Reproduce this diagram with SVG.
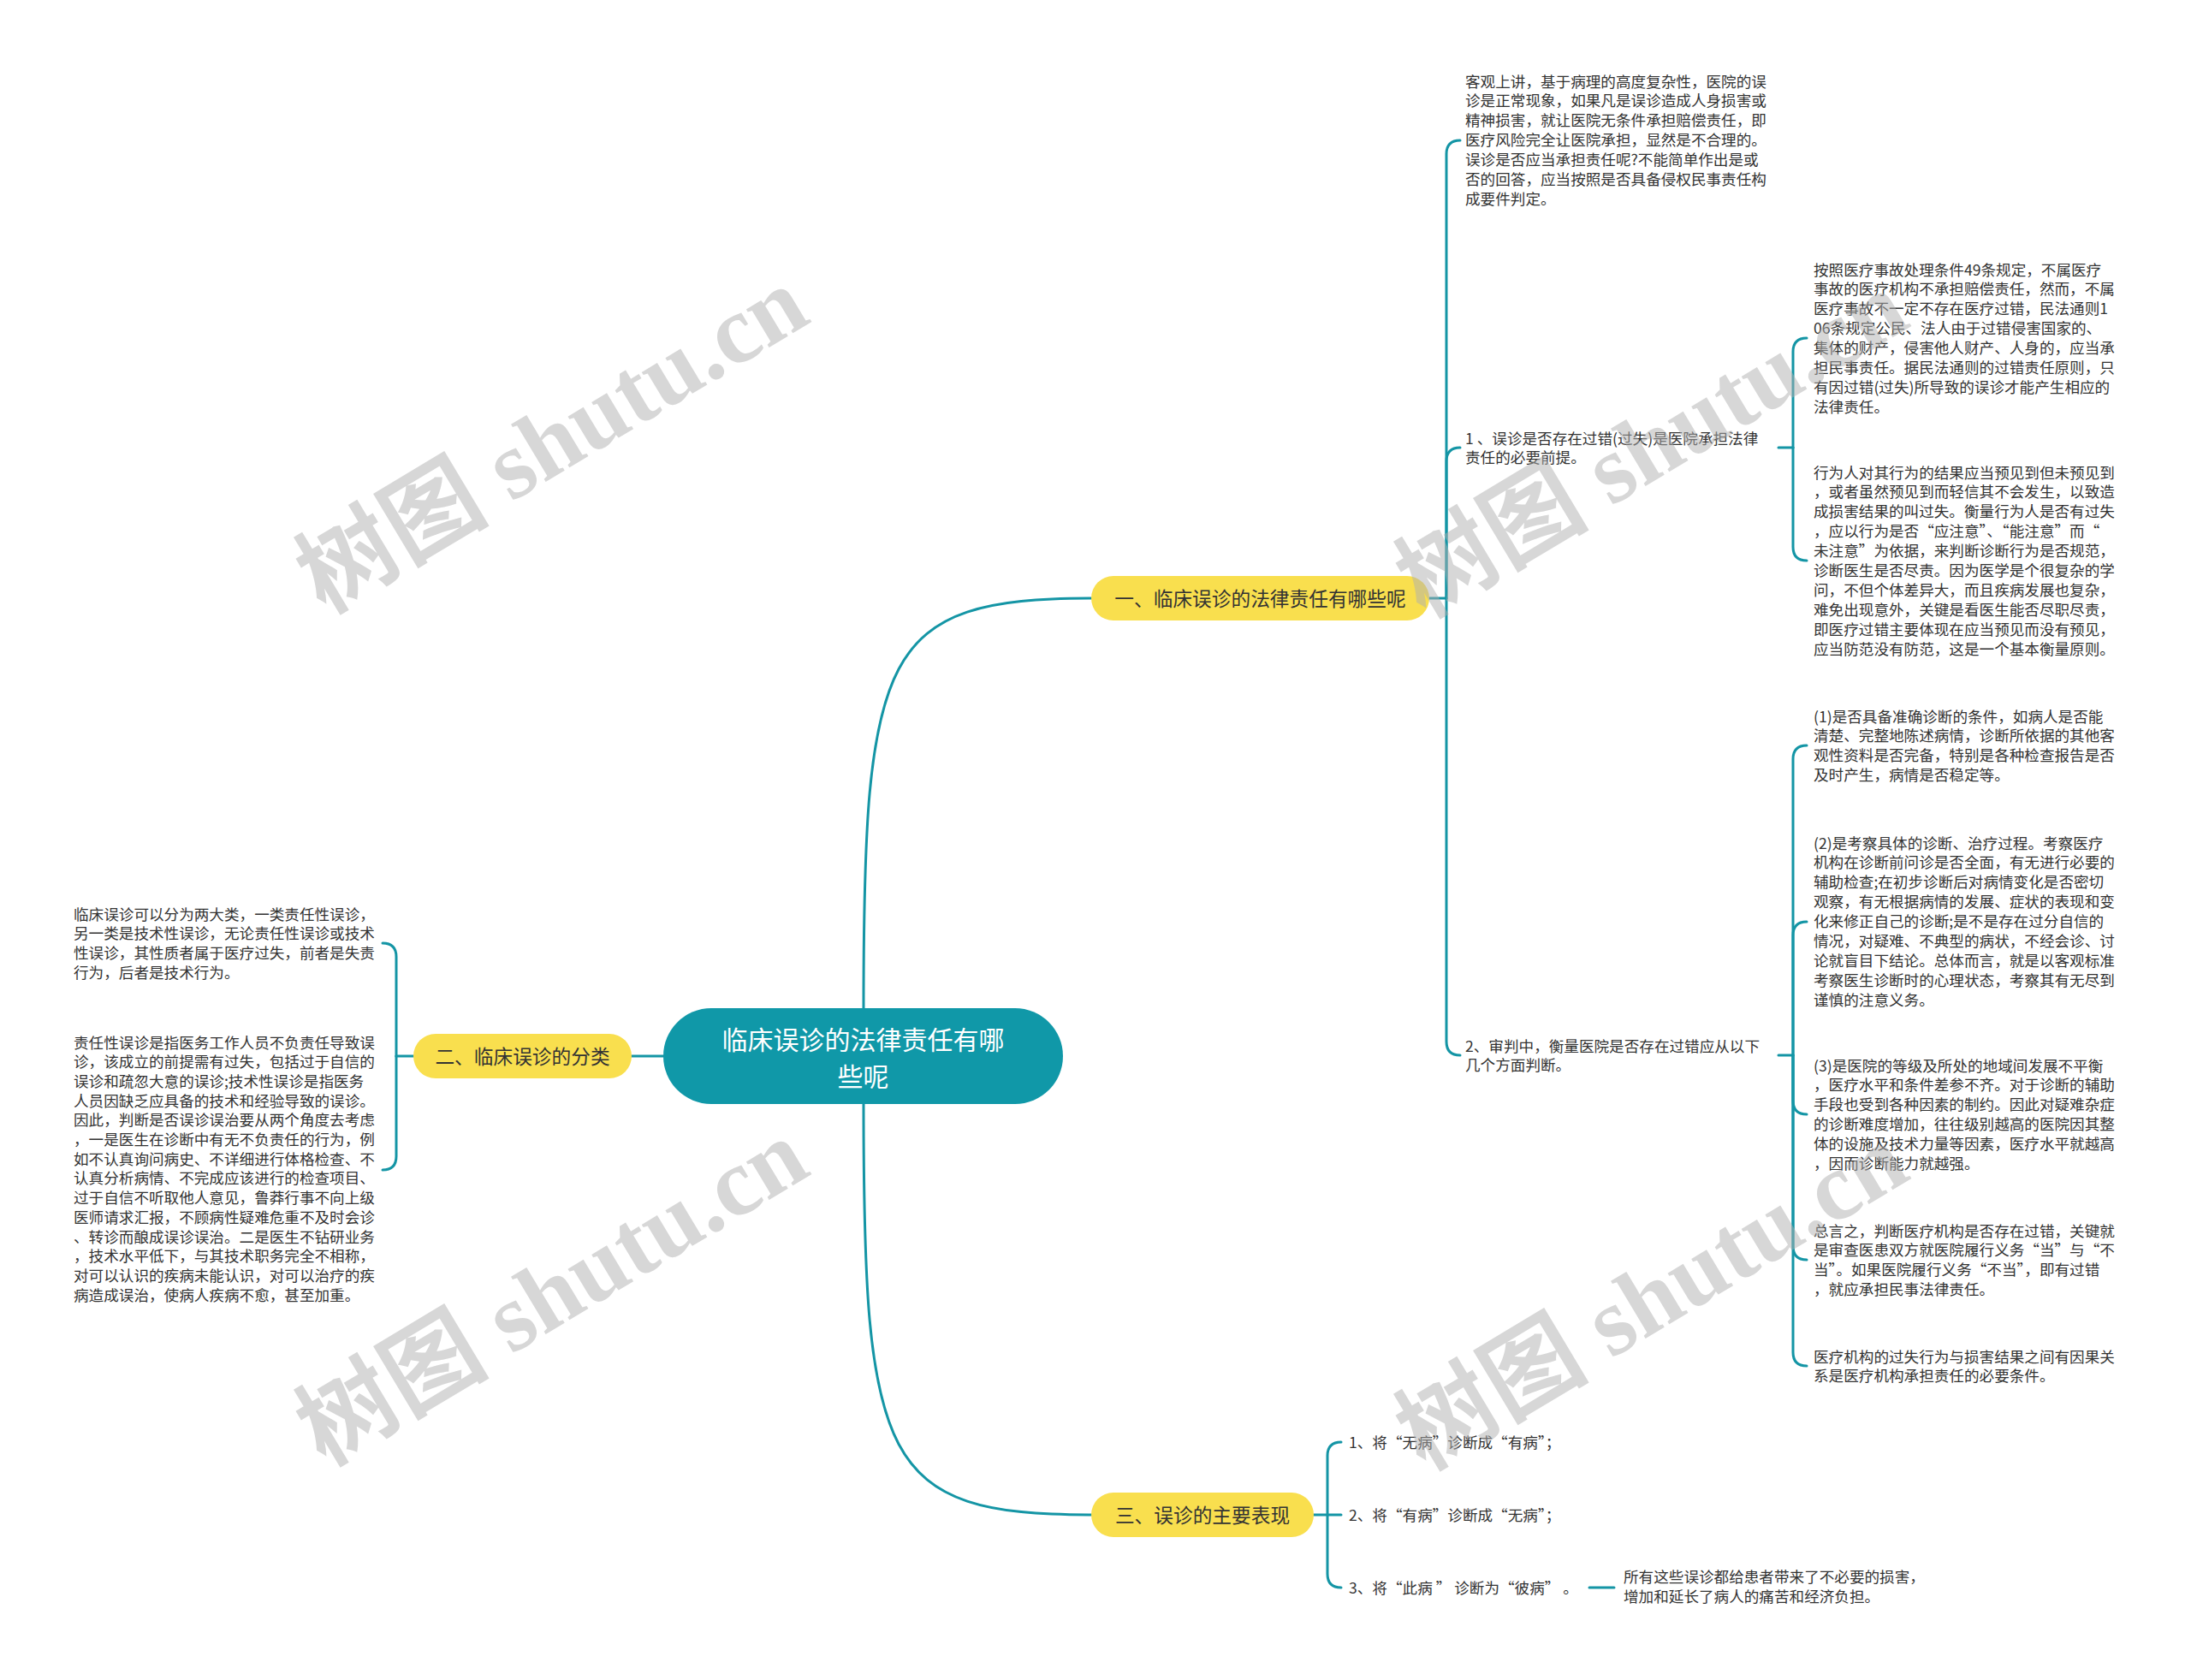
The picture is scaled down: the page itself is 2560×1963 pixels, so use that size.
<svg xmlns="http://www.w3.org/2000/svg" width="2560" height="1963" viewBox="0 0 2560 1963">
<style>
.t{font-family:"Noto Sans CJK SC","Noto Sans",sans-serif;font-size:17.6px;fill:#333}
.br{font-family:"Noto Sans CJK SC","Noto Sans",sans-serif;font-size:22.7px;fill:#333;text-anchor:middle}
.ct{font-family:"Noto Sans CJK SC","Noto Sans",sans-serif;font-size:30px;fill:#fff;text-anchor:middle}
.pill{fill:#F9DF4E}
.c{fill:none;stroke:#1495A5;stroke-width:3;stroke-linecap:round}
.wm{font-family:"Liberation Serif","Noto Sans CJK SC",serif;font-size:113px;font-weight:bold;fill:#b0b0b0;fill-opacity:0.5;text-anchor:middle}
</style>
<rect width="2560" height="1963" fill="#fff"/>
<g id="connectors">
<path class="c" d="M1009,1178 C1009,760 1030,699 1275,699"/>
<path class="c" d="M1009,1290 C1009,1710 1030,1770 1275,1770"/>
<path class="c" d="M775,1234 H738"/>
<path class="c" d="M1670,699 H1690"/>
<path class="c" d="M1690,699 V180 Q1690,164 1706,164"/>
<path class="c" d="M1690,699 V539 Q1690,523 1706,523"/>
<path class="c" d="M1690,699 V1217 Q1690,1233 1706,1233"/>
<path class="c" d="M2078,523 H2095"/>
<path class="c" d="M2095,523 V411 Q2095,395 2111,395"/>
<path class="c" d="M2095,523 V639 Q2095,655 2111,655"/>
<path class="c" d="M2078,1233 H2095"/>
<path class="c" d="M2095,1233 V887 Q2095,871 2111,871"/>
<path class="c" d="M2095,1233 V1093 Q2095,1077 2111,1077"/>
<path class="c" d="M2095,1233 V1286 Q2095,1302 2111,1302"/>
<path class="c" d="M2095,1233 V1456 Q2095,1472 2111,1472"/>
<path class="c" d="M2095,1233 V1580 Q2095,1596 2111,1596"/>
<path class="c" d="M483,1234 H463"/>
<path class="c" d="M463,1234 V1118 Q463,1102 447,1102"/>
<path class="c" d="M463,1234 V1351 Q463,1367 447,1367"/>
<path class="c" d="M1535,1770 H1551"/>
<path class="c" d="M1551,1770 V1701 Q1551,1685 1567,1685"/>
<path class="c" d="M1551,1770 H1567"/>
<path class="c" d="M1551,1770 V1839 Q1551,1855 1567,1855"/>
<path class="c" d="M1857,1855 H1886"/>
</g>
<g id="center">
<rect x="775" y="1178" width="467" height="112" rx="56" fill="#1098A8"/>
<text class="ct" x="1008.5" y="1226">临床误诊的法律责任有哪<tspan x="1008.5" dy="43">些呢</tspan></text>
</g>
<g id="branch1">
<rect class="pill" x="1275" y="673" width="395" height="52" rx="26"/>
<text class="br" x="1472.5" y="707.6">一、临床误诊的法律责任有哪些呢</text>
</g>
<g id="branch2">
<rect class="pill" x="483" y="1208" width="255" height="52" rx="26"/>
<text class="br" x="610.5" y="1242.6">二、临床误诊的分类</text>
</g>
<g id="branch3">
<rect class="pill" x="1275" y="1744" width="260" height="52" rx="26"/>
<text class="br" x="1405" y="1778.6">三、误诊的主要表现</text>
</g>
<g id="textA">
<text class="t" x="1712" y="101.5">客观上讲，基于病理的高度复杂性，医院的误<tspan x="1712" dy="22.9">诊是正常现象，如果凡是误诊造成人身损害或</tspan><tspan x="1712" dy="22.9">精神损害，就让医院无条件承担赔偿责任，即</tspan><tspan x="1712" dy="22.9">医疗风险完全让医院承担，显然是不合理的。</tspan><tspan x="1712" dy="22.9">误诊是否应当承担责任呢?不能简单作出是或</tspan><tspan x="1712" dy="22.9">否的回答，应当按照是否具备侵权民事责任构</tspan><tspan x="1712" dy="22.9">成要件判定。</tspan></text>
</g>
<g id="item1">
<text class="t" x="1712" y="518.5">1 、误诊是否存在过错(过失)是医院承担法律<tspan x="1712" dy="22.9">责任的必要前提。</tspan></text>
</g>
<g id="item2">
<text class="t" x="1712" y="1228.5">2、审判中，衡量医院是否存在过错应从以下<tspan x="1712" dy="22.9">几个方面判断。</tspan></text>
</g>
<g id="textB">
<text class="t" x="2119" y="321.5">按照医疗事故处理条件49条规定，不属医疗<tspan x="2119" dy="22.9">事故的医疗机构不承担赔偿责任，然而，不属</tspan><tspan x="2119" dy="22.9">医疗事故不一定不存在医疗过错，民法通则1</tspan><tspan x="2119" dy="22.9">06条规定公民、法人由于过错侵害国家的、</tspan><tspan x="2119" dy="22.9">集体的财产，侵害他人财产、人身的，应当承</tspan><tspan x="2119" dy="22.9">担民事责任。据民法通则的过错责任原则，只</tspan><tspan x="2119" dy="22.9">有因过错(过失)所导致的误诊才能产生相应的</tspan><tspan x="2119" dy="22.9">法律责任。</tspan></text>
</g>
<g id="textC">
<text class="t" x="2119" y="558.5">行为人对其行为的结果应当预见到但未预见到<tspan x="2119" dy="22.9">，或者虽然预见到而轻信其不会发生，以致造</tspan><tspan x="2119" dy="22.9">成损害结果的叫过失。衡量行为人是否有过失</tspan><tspan x="2119" dy="22.9">，应以行为是否“应注意”、“能注意”而“</tspan><tspan x="2119" dy="22.9">未注意”为依据，来判断诊断行为是否规范，</tspan><tspan x="2119" dy="22.9">诊断医生是否尽责。因为医学是个很复杂的学</tspan><tspan x="2119" dy="22.9">问，不但个体差异大，而且疾病发展也复杂，</tspan><tspan x="2119" dy="22.9">难免出现意外，关键是看医生能否尽职尽责，</tspan><tspan x="2119" dy="22.9">即医疗过错主要体现在应当预见而没有预见，</tspan><tspan x="2119" dy="22.9">应当防范没有防范，这是一个基本衡量原则。</tspan></text>
</g>
<g id="textD">
<text class="t" x="2119" y="843.5">(1)是否具备准确诊断的条件，如病人是否能<tspan x="2119" dy="22.9">清楚、完整地陈述病情，诊断所依据的其他客</tspan><tspan x="2119" dy="22.9">观性资料是否完备，特别是各种检查报告是否</tspan><tspan x="2119" dy="22.9">及时产生，病情是否稳定等。</tspan></text>
</g>
<g id="textE">
<text class="t" x="2119" y="991.5">(2)是考察具体的诊断、治疗过程。考察医疗<tspan x="2119" dy="22.9">机构在诊断前问诊是否全面，有无进行必要的</tspan><tspan x="2119" dy="22.9">辅助检查;在初步诊断后对病情变化是否密切</tspan><tspan x="2119" dy="22.9">观察，有无根据病情的发展、症状的表现和变</tspan><tspan x="2119" dy="22.9">化来修正自己的诊断;是不是存在过分自信的</tspan><tspan x="2119" dy="22.9">情况，对疑难、不典型的病状，不经会诊、讨</tspan><tspan x="2119" dy="22.9">论就盲目下结论。总体而言，就是以客观标准</tspan><tspan x="2119" dy="22.9">考察医生诊断时的心理状态，考察其有无尽到</tspan><tspan x="2119" dy="22.9">谨慎的注意义务。</tspan></text>
</g>
<g id="textF">
<text class="t" x="2119" y="1251.5">(3)是医院的等级及所处的地域间发展不平衡<tspan x="2119" dy="22.9">，医疗水平和条件差参不齐。对于诊断的辅助</tspan><tspan x="2119" dy="22.9">手段也受到各种因素的制约。因此对疑难杂症</tspan><tspan x="2119" dy="22.9">的诊断难度增加，往往级别越高的医院因其整</tspan><tspan x="2119" dy="22.9">体的设施及技术力量等因素，医疗水平就越高</tspan><tspan x="2119" dy="22.9">，因而诊断能力就越强。</tspan></text>
</g>
<g id="textG">
<text class="t" x="2119" y="1444.5">总言之，判断医疗机构是否存在过错，关键就<tspan x="2119" dy="22.9">是审查医患双方就医院履行义务“当”与“不</tspan><tspan x="2119" dy="22.9">当”。如果医院履行义务“不当”，即有过错</tspan><tspan x="2119" dy="22.9">，就应承担民事法律责任。</tspan></text>
</g>
<g id="textH">
<text class="t" x="2119" y="1591.5">医疗机构的过失行为与损害结果之间有因果关<tspan x="2119" dy="22.9">系是医疗机构承担责任的必要条件。</tspan></text>
</g>
<g id="textL1">
<text class="t" x="86" y="1074.5">临床误诊可以分为两大类，一类责任性误诊，<tspan x="86" dy="22.9">另一类是技术性误诊，无论责任性误诊或技术</tspan><tspan x="86" dy="22.9">性误诊，其性质者属于医疗过失，前者是失责</tspan><tspan x="86" dy="22.9">行为，后者是技术行为。</tspan></text>
</g>
<g id="textL2">
<text class="t" x="86" y="1224.5">责任性误诊是指医务工作人员不负责任导致误<tspan x="86" dy="22.7">诊，该成立的前提需有过失，包括过于自信的</tspan><tspan x="86" dy="22.7">误诊和疏忽大意的误诊;技术性误诊是指医务</tspan><tspan x="86" dy="22.7">人员因缺乏应具备的技术和经验导致的误诊。</tspan><tspan x="86" dy="22.7">因此，判断是否误诊误治要从两个角度去考虑</tspan><tspan x="86" dy="22.7">，一是医生在诊断中有无不负责任的行为，例</tspan><tspan x="86" dy="22.7">如不认真询问病史、不详细进行体格检查、不</tspan><tspan x="86" dy="22.7">认真分析病情、不完成应该进行的检查项目、</tspan><tspan x="86" dy="22.7">过于自信不听取他人意见，鲁莽行事不向上级</tspan><tspan x="86" dy="22.7">医师请求汇报，不顾病性疑难危重不及时会诊</tspan><tspan x="86" dy="22.7">、转诊而酿成误诊误治。二是医生不钻研业务</tspan><tspan x="86" dy="22.7">，技术水平低下，与其技术职务完全不相称，</tspan><tspan x="86" dy="22.7">对可以认识的疾病未能认识，对可以治疗的疾</tspan><tspan x="86" dy="22.7">病造成误治，使病人疾病不愈，甚至加重。</tspan></text>
</g>
<g id="list1">
<text class="t" x="1576" y="1691.5">1、将“无病”诊断成“有病”；</text>
</g>
<g id="list2">
<text class="t" x="1576" y="1776.5">2、将“有病”诊断成“无病”；</text>
</g>
<g id="list3">
<text class="t" x="1576" y="1861.5">3、将“此病 ” 诊断为“彼病” 。</text>
</g>
<g id="listNote">
<text class="t" x="1897" y="1848.5">所有这些误诊都给患者带来了不必要的损害，<tspan x="1897" dy="23">增加和延长了病人的痛苦和经济负担。</tspan></text>
</g>
<g id="watermarks">
<text class="wm" transform="translate(645,514) rotate(-31)" y="38">树图 shutu.cn</text>
<text class="wm" transform="translate(645,1510) rotate(-31)" y="38">树图 shutu.cn</text>
<text class="wm" transform="translate(1930,519) rotate(-31)" y="38">树图 shutu.cn</text>
<text class="wm" transform="translate(1930,1515) rotate(-31)" y="38">树图 shutu.cn</text>
</g>
</svg>
